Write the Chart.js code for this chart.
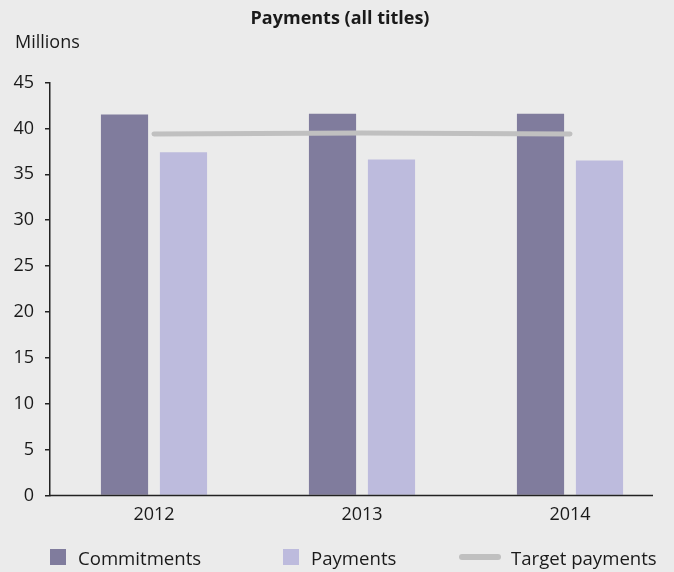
<!DOCTYPE html>
<html>
<head>
<meta charset="utf-8">
<script src="https://cdn.jsdelivr.net/npm/chart.js@4.4.1/dist/chart.umd.min.js"></script>
<style>
  body { margin: 0; background: #ebebeb; font-family: "Open Sans", sans-serif; }
  #wrap { position: relative; width: 674px; height: 572px; }
  #chart { position: absolute; left: 0; top: 0; }
  .legend-item { position: absolute; top: 546px; height: 22px; display: flex; align-items: center; font-size: 18.6px; color: #1a1a1a; white-space: nowrap; }
  .swatch-box { width: 16px; height: 16px; margin-right: 12px; }
  .swatch-line { width: 42px; height: 6px; border-radius: 3px; margin-right: 10px; }
</style>
</head>
<body>
<div id="wrap">
  <canvas id="chart" width="674" height="572"></canvas>
  <div id="legend"></div>
</div>
<script>
const years = ["2012", "2013", "2014"];
const commitments = [41.5, 41.6, 41.6];
const payments = [37.4, 36.6, 36.5];
const targetPayments = [39.4, 39.5, 39.4];
const yTicks = [0, 5, 10, 15, 20, 25, 30, 35, 40, 45];

const COLORS = {
  commitments: "#807c9d",
  payments: "#bdbbdd",
  target: "#c0c0c0",
  text: "#1a1a1a",
  axis: "#222222"
};

const FONT = "\"Open Sans\", sans-serif";

// title, unit label and the x axis line (which stops short of the right edge)
const decorPlugin = {
  id: "decor",
  afterDraw(chart) {
    const ctx = chart.ctx;
    const area = chart.chartArea;
    ctx.save();
    ctx.fillStyle = COLORS.text;
    ctx.textBaseline = "middle";
    ctx.font = "bold 18px " + FONT;
    ctx.textAlign = "center";
    ctx.fillText("Payments (all titles)", 340, 19);
    ctx.font = "18px " + FONT;
    ctx.textAlign = "left";
    ctx.fillText("Millions", 15, 43);

    ctx.strokeStyle = COLORS.axis;
    ctx.lineWidth = 1.5;
    ctx.beginPath();
    ctx.moveTo(area.left, area.bottom);
    ctx.lineTo(area.right - 21, area.bottom);
    ctx.stroke();
    ctx.restore();
  }
};

const ctx = document.getElementById("chart").getContext("2d");

const chart = new Chart(ctx, {
  type: "bar",
  data: {
    labels: years,
    datasets: [
      {
        type: "line",
        label: "Target payments",
        data: targetPayments,
        borderColor: COLORS.target,
        backgroundColor: COLORS.target,
        borderWidth: 5,
        borderCapStyle: "round",
        pointRadius: 0,
        tension: 0,
        order: 0
      },
      {
        label: "Commitments",
        data: commitments,
        backgroundColor: COLORS.commitments,
        order: 1
      },
      {
        label: "Payments",
        data: payments,
        backgroundColor: COLORS.payments,
        order: 1
      }
    ]
  },
  options: {
    responsive: false,
    animation: false,
    layout: { padding: { top: 82.5, left: 0, right: 0, bottom: 0 } },
    datasets: {
      bar: { categoryPercentage: 0.567, barPercentage: 0.8 }
    },
    plugins: {
      legend: { display: false },
      title: { display: false },
      tooltip: { enabled: false }
    },
    scales: {
      x: {
        offset: true,
        grid: { display: false },
        border: { display: false },
        ticks: { color: COLORS.text, font: { family: FONT, size: 18 }, padding: 1 },
        afterFit(scale) { scale.height = 76.5; }
      },
      y: {
        min: 0,
        max: 45,
        afterBuildTicks(scale) { scale.ticks = yTicks.map((v) => ({ value: v })); },
        grid: { drawOnChartArea: false, drawTicks: true, tickLength: 5, color: COLORS.axis, lineWidth: 1.5 },
        border: { display: true, color: COLORS.axis, width: 1.5 },
        ticks: { color: COLORS.text, font: { family: FONT, size: 18 }, padding: 11 },
        afterFit(scale) { scale.width = 50; }
      }
    }
  },
  plugins: [decorPlugin]
});

// html legend, built from the datasets
const legendEl = document.getElementById("legend");
const legendLefts = [50, 283, 459];
const legendOrder = [1, 2, 0];
legendOrder.forEach((dsIndex, i) => {
  const ds = chart.data.datasets[dsIndex];
  const item = document.createElement("div");
  item.className = "legend-item";
  item.style.left = legendLefts[i] + "px";
  const sw = document.createElement("span");
  sw.className = ds.type === "line" ? "swatch-line" : "swatch-box";
  sw.style.background = ds.type === "line" ? ds.borderColor : ds.backgroundColor;
  const txt = document.createElement("span");
  txt.textContent = ds.label;
  item.appendChild(sw);
  item.appendChild(txt);
  legendEl.appendChild(item);
});
</script>
</body>
</html>
